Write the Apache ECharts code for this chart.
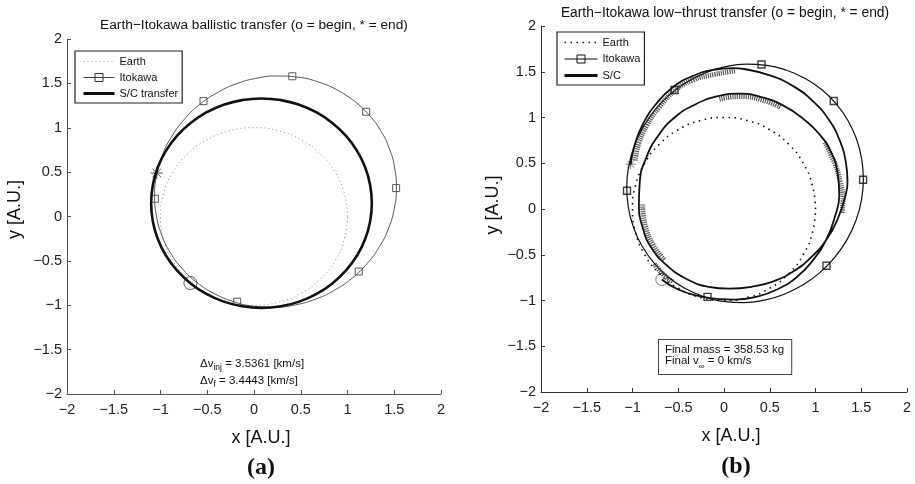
<!DOCTYPE html>
<html><head><meta charset="utf-8">
<script src="https://cdn.jsdelivr.net/npm/echarts@6/dist/echarts.min.js"></script>
<style>html,body{margin:0;padding:0;background:#fff}#c{width:915px;height:484px}</style>
</head><body><div id="c"></div>
<script>
// ---------- data (A.U.) ----------
const tickLabels = ['−2','−1.5','−1','−0.5','0','0.5','1','1.5','2'];

const earthOrbit = [
  [1,0],[0.966,0.259],[0.866,0.5],[0.707,0.707],[0.5,0.866],[0.259,0.966],[0,1],
  [-0.259,0.966],[-0.5,0.866],[-0.707,0.707],[-0.866,0.5],[-0.966,0.259],[-1,0],
  [-0.966,-0.259],[-0.866,-0.5],[-0.707,-0.707],[-0.5,-0.866],[-0.259,-0.966],[0,-1],
  [0.259,-0.966],[0.5,-0.866],[0.707,-0.707],[0.866,-0.5],[0.966,-0.259],[1,0]
];

const itokawaOrbit = [
  [1.071,1.303],[0.888,1.427],[0.684,1.517],[0.467,1.570],[0.243,1.583],[0.019,1.556],
  [-0.199,1.491],[-0.405,1.388],[-0.591,1.253],[-0.752,1.087],[-0.883,0.897],[-0.981,0.688],
  [-1.041,0.467],[-1.063,0.240],[-1.045,0.015],[-0.989,-0.202],[-0.896,-0.405],[-0.768,-0.587],
  [-0.611,-0.743],[-0.428,-0.867],[-0.224,-0.957],[-0.007,-1.010],[0.217,-1.023],[0.441,-0.996],
  [0.659,-0.931],[0.865,-0.828],[1.051,-0.693],[1.212,-0.527],[1.343,-0.337],[1.441,-0.128],
  [1.501,0.093],[1.523,0.320],[1.505,0.545],[1.449,0.762],[1.356,0.965],[1.228,1.147],[1.071,1.303]
];

const itokawaMarks = [
  [-0.54,1.30],[0.41,1.58],[1.20,1.18],[1.52,0.32],[1.12,-0.62],[-0.18,-0.96],[-1.06,0.20]
];

const ballisticTransfer = [
  [1.26,0.15],[1.242,0.355],[1.189,0.554],[1.102,0.74],[0.984,0.908],[0.838,1.054],[0.67,1.172],
  [0.484,1.259],[0.285,1.312],[0.08,1.33],[-0.125,1.312],[-0.324,1.259],[-0.51,1.172],
  [-0.678,1.054],[-0.824,0.908],[-0.942,0.74],[-1.029,0.554],[-1.082,0.355],[-1.10,0.15],
  [-1.082,-0.055],[-1.029,-0.254],[-0.942,-0.44],[-0.824,-0.608],[-0.678,-0.754],[-0.51,-0.872],
  [-0.324,-0.959],[-0.125,-1.012],[0.08,-1.03],[0.285,-1.012],[0.484,-0.959],[0.67,-0.872],
  [0.838,-0.754],[0.984,-0.608],[1.102,-0.44],[1.189,-0.254],[1.242,-0.055],[1.26,0.15]
];
const ballisticBegin = [[-0.68,-0.75]];
const ballisticEnd = [[-1.04,0.49]];

const lowThrustPath = [
  [-0.68,-0.77],[-0.50,-0.88],[-0.28,-0.95],[-0.05,-0.985],[0.12,-0.99],[0.35,-0.96],
  [0.58,-0.88],[0.80,-0.74],[0.98,-0.55],[1.12,-0.33],[1.21,-0.09],[1.26,0.15],
  [1.24,0.40],[1.17,0.62],[1.04,0.82],[0.86,0.99],[0.65,1.13],[0.42,1.22],[0.17,1.26],
  [-0.08,1.23],[-0.32,1.14],[-0.54,1.00],[-0.72,0.80],[-0.85,0.56],[-0.92,0.30],[-0.93,0.05],
  [-0.89,-0.20],[-0.79,-0.43],[-0.62,-0.62],[-0.40,-0.77],[-0.17,-0.85],[0.06,-0.87],
  [0.30,-0.85],[0.54,-0.79],[0.76,-0.68],[0.96,-0.52],[1.13,-0.32],[1.25,-0.09],[1.32,0.12],
  [1.35,0.30],[1.33,0.52],[1.26,0.76],[1.15,0.97],[0.98,1.17],[0.76,1.34],[0.50,1.46],
  [0.22,1.53],[0.10,1.54],[-0.12,1.52],[-0.35,1.45],[-0.56,1.33],[-0.74,1.15],[-0.88,0.94],
  [-0.97,0.72],[-1.02,0.49]
];
const lowThrustBegin = [[-0.68,-0.77]];
const lowThrustEnd = [[-1.02,0.49]];

// thrust-arrow (hatched) arcs along the low-thrust path
const thrustArcOuter = [[-0.97,0.53],[-0.93,0.72],[-0.84,0.92],[-0.71,1.11],[-0.54,1.29],[-0.34,1.41],[-0.11,1.47],[0.06,1.50],[0.12,1.51]];
const thrustArcTop = [[-0.05,1.20],[0.17,1.23],[0.42,1.19],[0.62,1.11]];
const thrustArcRight = [[1.10,0.73],[1.21,0.50],[1.27,0.30],[1.30,0.12],[1.29,-0.05]];
const thrustArcLeft = [[-0.89,0.05],[-0.86,-0.18],[-0.77,-0.40],[-0.65,-0.56]];
const thrustArcBegin = [[-0.76,-0.60],[-0.66,-0.72],[-0.55,-0.80]];
const thrustArcs = [thrustArcOuter, thrustArcTop, thrustArcRight, thrustArcLeft, thrustArcBegin];

const panelTitles = ['Earth\u2212Itokawa ballistic transfer (o = begin, * = end)',
                     'Earth\u2212Itokawa low\u2212thrust transfer (o = begin, * = end)'];

// ---------- chart ----------
const FONT = '"Liberation Sans", Arial, Helvetica, sans-serif';
const fmt = v => tickLabels[Math.round((v + 2) * 2)];

function xAx(gi, col) {
  return {type:'value', gridIndex:gi, min:-2, max:2, interval:0.5,
    name:'x [A.U.]', nameLocation:'middle', nameGap:35,
    nameTextStyle:{fontSize:18, color:'#111', fontFamily:FONT, padding:[0,0,0,14]},
    axisLine:{onZero:false, lineStyle:{color:col, width:1}},
    axisTick:{inside:true, length:4, lineStyle:{color:col}},
    axisLabel:{fontSize:14.5, color:'#222', margin:8, fontFamily:FONT, formatter:fmt, showMinLabel:true, showMaxLabel:true},
    splitLine:{show:false}};
}
function yAx(gi, col, gap, pad) {
  return {type:'value', gridIndex:gi, min:-2, max:2, interval:0.5,
    name:'y [A.U.]', nameLocation:'middle', nameGap:gap,
    nameTextStyle:{fontSize:18, color:'#111', fontFamily:FONT, padding:[0,0,0,pad]},
    axisLine:{onZero:false, lineStyle:{color:col, width:1}},
    axisTick:{inside:true, length:4, lineStyle:{color:col}},
    axisLabel:{fontSize:14.5, color:'#222', margin:5, fontFamily:FONT, formatter:fmt, showMinLabel:true, showMaxLabel:true},
    splitLine:{show:false}};
}

const hollow = c => ({color:'rgba(0,0,0,0)', borderColor:c, borderWidth:1});
const ASTER = 'path://M5 0V10M0 5H10M1.5 1.5L8.5 8.5M8.5 1.5L1.5 8.5';

const series = [
  // ----- panel (a) -----
  {name:'Earth', type:'line', xAxisIndex:0, yAxisIndex:0, data:earthOrbit, smooth:0.5, symbol:'none',
   lineStyle:{color:'#888', width:1, type:[1,3]}, itemStyle:{color:'#888'}},
  {name:'Itokawa', type:'line', xAxisIndex:0, yAxisIndex:0, data:itokawaOrbit, smooth:0.5, symbol:'rect', showSymbol:false,
   lineStyle:{color:'#444', width:0.9}, itemStyle:{color:'#444'}},
  {name:'S/C transfer', type:'line', xAxisIndex:0, yAxisIndex:0, data:ballisticTransfer, smooth:0.5, symbol:'none',
   lineStyle:{color:'#111', width:2.6}, itemStyle:{color:'#111'}},
  {name:'Itokawa positions (a)', type:'scatter', xAxisIndex:0, yAxisIndex:0, data:itokawaMarks, symbol:'rect', symbolSize:7, itemStyle:hollow('#333')},
  {name:'begin (a)', type:'scatter', xAxisIndex:0, yAxisIndex:0, data:ballisticBegin, symbol:'circle', symbolSize:13, itemStyle:hollow('#333')},
  {name:'end (a)', type:'scatter', xAxisIndex:0, yAxisIndex:0, data:ballisticEnd, symbol:ASTER, symbolSize:12, itemStyle:hollow('#222')},
  // ----- panel (b) -----
  {name:'Earth ', type:'line', xAxisIndex:1, yAxisIndex:1, data:earthOrbit, smooth:0.5, symbol:'none',
   lineStyle:{color:'#111', width:1.6, type:[1.5,4.5]}, itemStyle:{color:'#111'}},
  {name:'Itokawa ', type:'line', xAxisIndex:1, yAxisIndex:1, data:itokawaOrbit, smooth:0.5, symbol:'rect', showSymbol:false,
   lineStyle:{color:'#111', width:1.2}, itemStyle:{color:'#111'}}
];
thrustArcs.forEach((arc, i) => series.push(
  {name:'thrust ' + (i + 1), type:'line', xAxisIndex:1, yAxisIndex:1, data:arc, smooth:0.5, symbol:'none',
   lineStyle:{color:'#222', width:5, opacity:0.75, type:[1.2,1]}, itemStyle:{color:'#222'}}));
series.push(
  {name:'S/C', type:'line', xAxisIndex:1, yAxisIndex:1, data:lowThrustPath, smooth:0.5, symbol:'none',
   lineStyle:{color:'#111', width:1.8}, itemStyle:{color:'#111'}},
  {name:'Itokawa positions (b)', type:'scatter', xAxisIndex:1, yAxisIndex:1, data:itokawaMarks, symbol:'rect', symbolSize:7,
   itemStyle:{color:'rgba(0,0,0,0)', borderColor:'#111', borderWidth:1.4}},
  {name:'begin (b)', type:'scatter', xAxisIndex:1, yAxisIndex:1, data:lowThrustBegin, symbol:'circle', symbolSize:12, itemStyle:hollow('#555')},
  {name:'end (b)', type:'scatter', xAxisIndex:1, yAxisIndex:1, data:lowThrustEnd, symbol:ASTER, symbolSize:10, itemStyle:hollow('#555')}
);

const legendCommon = {orient:'vertical', itemHeight:10, borderColor:'#222', borderWidth:1.2, backgroundColor:'#fff',
  textStyle:{fontSize:11, color:'#111', fontFamily:FONT}, formatter:n => n.trim(), selectedMode:false};

const chart = echarts.init(document.getElementById('c'), null, {renderer:'canvas'});
chart.setOption({
  animation:false,
  backgroundColor:'#fff',
  grid:[{left:67, top:39, width:374, height:355}, {left:541, top:26, width:366, height:366}],
  xAxis:[xAx(0,'#555'), xAx(1,'#333')],
  yAxis:[yAx(0,'#555',43,14), yAx(1,'#333',39,8)],
  legend:[
    Object.assign({}, legendCommon, {left:75, top:51, itemWidth:31, itemGap:5, padding:[5,4,4,7],
      data:[{name:'Earth', itemStyle:{opacity:0}, lineStyle:{width:1}},
            {name:'Itokawa', itemStyle:{color:'rgba(0,0,0,0)', borderColor:'#333', borderWidth:1}, lineStyle:{width:1}},
            {name:'S/C transfer', itemStyle:{opacity:0}, lineStyle:{width:3}}]}),
    Object.assign({}, legendCommon, {left:557, top:32, itemWidth:33, itemGap:5.5, padding:[5,4,4,6],
      data:[{name:'Earth ', itemStyle:{opacity:0}, lineStyle:{width:1.4}},
            {name:'Itokawa ', itemStyle:{color:'rgba(0,0,0,0)', borderColor:'#111', borderWidth:1}, lineStyle:{width:1.2}},
            {name:'S/C', itemStyle:{opacity:0}, lineStyle:{width:3}}]})
  ],
  graphic:[
    {type:'text', x:254, y:25, style:{text:panelTitles[0], fontSize:13.7, fontFamily:FONT, fill:'#111', align:'center', verticalAlign:'middle'}},
    {type:'text', x:725, y:13, style:{text:panelTitles[1], fontSize:13.8, fontFamily:FONT, fill:'#111', align:'center', verticalAlign:'middle'}},
    {type:'text', x:261, y:468, style:{text:'(a)', fontSize:24, fontWeight:'bold', fontFamily:'"Liberation Serif", "Times New Roman", serif', fill:'#111', align:'center', verticalAlign:'middle'}},
    {type:'text', x:736, y:467, style:{text:'(b)', fontSize:24, fontWeight:'bold', fontFamily:'"Liberation Serif", "Times New Roman", serif', fill:'#111', align:'center', verticalAlign:'middle'}},
    {type:'text', x:200, y:355, style:{
      text:'{m|\u0394v}{s|inj}{m| = 3.5361 [km/s]}\n{m|\u0394v}{s|f}{m| = 3.4443 [km/s]}',
      rich:{m:{fontSize:11.5, lineHeight:17, fontFamily:FONT, fill:'#111'},
            s:{fontSize:8.5, lineHeight:9, fontFamily:FONT, fill:'#111', verticalAlign:'bottom'}}}},
    {type:'text', x:659, y:340, style:{
      text:'{a|Final mass = 358.53 kg}\n{b|Final v}{s|\u221e}{b| = 0 km/s}',
      rich:{a:{fontSize:11.5, lineHeight:11, fontFamily:FONT, fill:'#111'},
            b:{fontSize:11.5, lineHeight:11, fontFamily:FONT, fill:'#111', verticalAlign:'top'},
            s:{fontSize:8, lineHeight:8, fontFamily:FONT, fill:'#111', verticalAlign:'top', padding:[8,0,0,0]}},
      padding:[4,7,8,6], borderColor:'#444', borderWidth:1, backgroundColor:'#fff'}}
  ],
  series:series
});
</script>
</body></html>
